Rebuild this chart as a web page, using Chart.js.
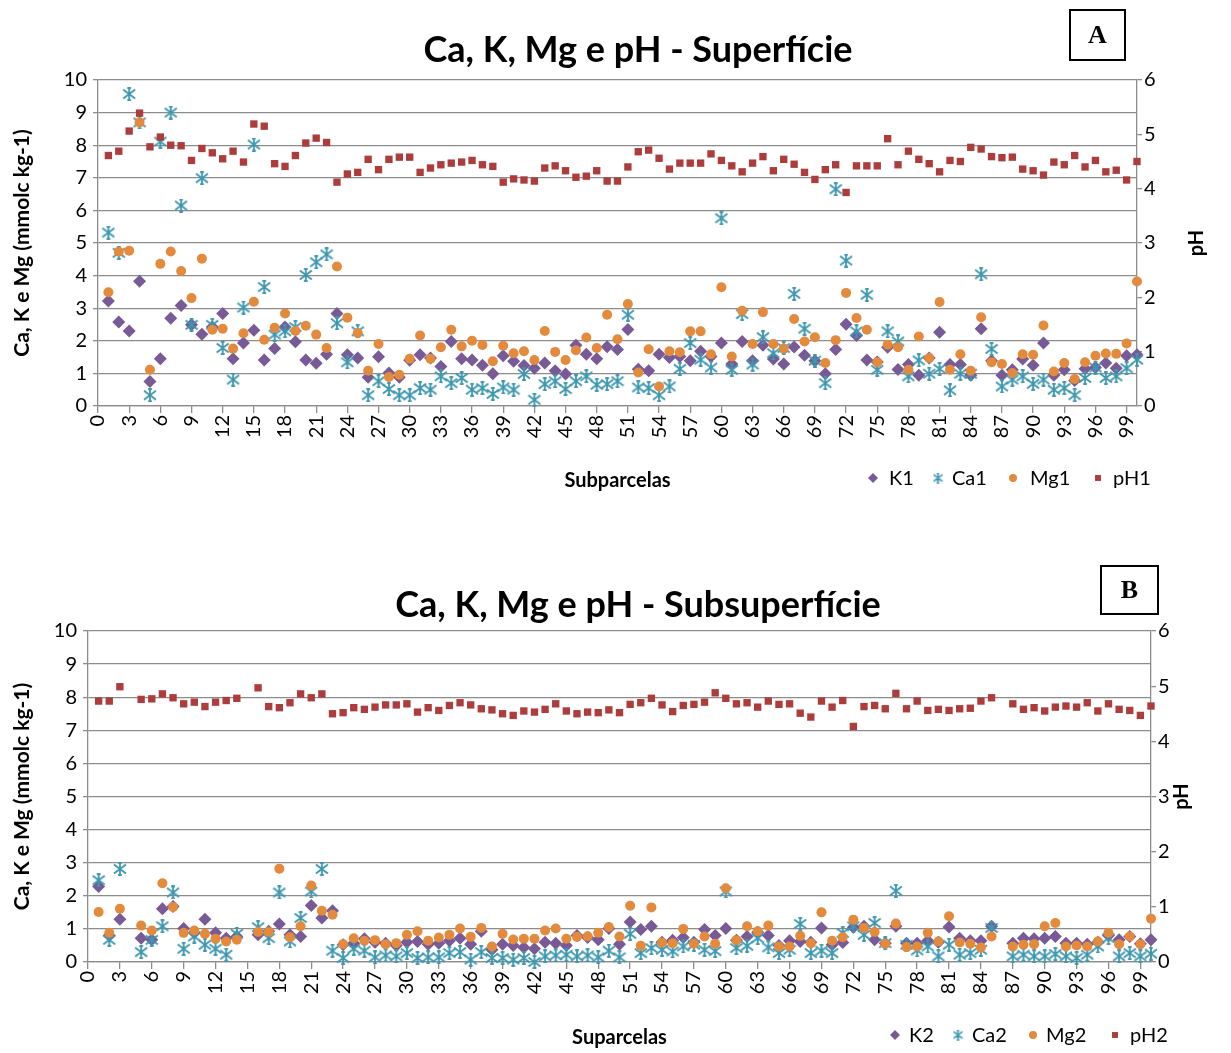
<!DOCTYPE html>
<html>
<head>
<meta charset="utf-8">
<script src="https://cdn.jsdelivr.net/npm/chart.js@4.4.1/dist/chart.umd.min.js"></script>
<style>
  body { margin: 0; background: #fff; }
  .wrap { position: absolute; left: 0; width: 1231px; height: 500px; }
</style>
</head>
<body>
<div class="wrap" style="top:0"><canvas id="sup"></canvas></div>
<div class="wrap" style="top:553px"><canvas id="sub"></canvas></div>
<script>
// subparcel numbers (x values)
const subparcelas = Array.from({length: 100}, (_, i) => i + 1);
const xTickLabels = [0,3,6,9,12,15,18,21,24,27,30,33,36,39,42,45,48,51,54,57,60,63,66,69,72,75,78,81,84,87,90,93,96,99];

// Superfície
const K1 = [3.22,2.58,2.30,3.83,0.75,1.45,2.69,3.08,2.49,2.20, 2.42,2.84,1.45,1.93,2.32,1.41,1.76,2.42,1.97,1.41,
  1.31,1.59,2.84,1.57,1.47,0.88,1.51,1.01,0.88,1.40, 1.57,1.47,1.21,1.98,1.45,1.41,1.25,0.99,1.54,1.37,
  1.24,1.16,1.32,1.08,0.98,1.86,1.59,1.45,1.82,1.73, 2.35,1.13,1.08,1.59,1.49,1.52,1.39,1.68,1.52,1.93,
  1.29,1.98,1.39,1.86,1.44,1.29,1.81,1.56,1.39,0.99, 1.73,2.51,2.16,1.41,1.35,1.80,1.12,1.27,0.94,1.47,
  2.26,1.27,1.27,0.94,2.37,1.39,0.94,1.11,1.44,1.25, 1.93,0.94,1.11,0.78,1.14,1.18,1.32,1.16,1.54,1.57];
const Ca1 = [5.32,4.70,9.57,8.70,0.33,8.11,9.00,6.15,2.49,6.99, 2.49,1.78,0.81,3.02,8.02,3.65,2.19,2.29,2.42,4.02,
  4.41,4.65,2.54,1.34,2.29,0.33,0.76,0.52,0.33,0.33, 0.55,0.50,0.91,0.70,0.86,0.50,0.55,0.37,0.57,0.50,
  0.98,0.19,0.67,0.76,0.52,0.76,0.91,0.65,0.67,0.76, 2.80,0.57,0.55,0.33,0.60,1.14,1.93,1.42,1.18,5.76,
  1.11,2.82,1.27,2.11,1.62,1.78,3.44,2.37,1.39,0.70, 6.65,4.46,2.29,3.41,1.11,2.29,1.98,0.91,1.40,0.99,
  1.14,0.48,0.99,0.99,4.04,1.75,0.60,0.81,0.91,0.68, 0.81,0.50,0.55,0.33,0.86,1.18,0.86,0.91,1.16,1.42];
const Mg1 = [3.49,4.73,4.76,8.70,1.11,4.36,4.74,4.14,3.31,4.52, 2.34,2.37,1.76,2.23,3.20,2.03,2.40,2.84,2.30,2.46,
  2.19,1.78,4.28,2.71,2.24,1.08,1.90,0.89,0.96,1.45, 2.16,1.45,1.80,2.34,1.83,2.00,1.87,1.37,1.85,1.62,
  1.68,1.41,2.30,1.66,1.41,1.71,2.10,1.78,2.80,2.05, 3.13,1.03,1.74,0.60,1.68,1.65,2.29,2.29,1.59,3.64,
  1.52,2.92,1.90,2.88,1.90,1.76,2.67,1.98,2.11,1.32, 2.02,3.47,2.70,2.34,1.34,1.88,1.80,1.11,2.13,1.47,
  3.19,1.11,1.59,1.08,2.72,1.34,1.29,1.01,1.59,1.57, 2.47,1.06,1.32,0.83,1.34,1.54,1.61,1.60,1.92,3.82];
const pH1 = [4.61,4.69,5.06,5.39,4.77,4.95,4.80,4.79,4.52,4.74, 4.66,4.55,4.69,4.49,5.19,5.15,4.46,4.41,4.61,4.84,
  4.93,4.85,4.12,4.27,4.30,4.54,4.35,4.54,4.58,4.58, 4.30,4.38,4.44,4.47,4.49,4.52,4.44,4.41,4.12,4.18,
  4.16,4.14,4.38,4.42,4.33,4.21,4.23,4.33,4.14,4.14, 4.40,4.68,4.71,4.56,4.36,4.47,4.47,4.47,4.64,4.52,
  4.42,4.31,4.47,4.59,4.33,4.54,4.45,4.30,4.17,4.35, 4.44,3.93,4.42,4.42,4.42,4.92,4.44,4.69,4.54,4.46,
  4.31,4.52,4.50,4.76,4.73,4.59,4.57,4.58,4.36,4.33, 4.25,4.49,4.44,4.61,4.40,4.52,4.31,4.34,4.16,4.50];

// Subsuperfície (null = no sample)
const K2 = [2.28,0.80,1.29,null,0.72,0.67,1.61,1.68,1.01,0.88, 1.29,0.88,0.72,0.77,null,0.82,0.93,1.15,0.82,0.77,
  1.71,1.33,1.55,0.52,0.57,0.70,0.60,0.57,0.50,0.60, 0.62,0.54,0.57,0.64,0.72,0.54,0.93,0.37,0.54,0.50,
  0.44,0.40,0.60,0.57,0.50,0.80,0.74,0.67,1.01,0.54, 1.21,0.98,1.08,0.60,0.66,0.74,0.60,0.98,0.80,1.01,
  0.66,0.77,0.90,0.80,0.50,0.64,0.62,0.60,1.03,0.52, 0.59,1.05,1.08,0.67,0.57,1.08,0.57,0.57,0.64,0.60,
  1.06,0.72,0.64,0.64,1.08,null,0.57,0.72,0.70,0.72, 0.77,0.57,0.57,0.54,0.60,0.80,0.67,0.77,0.55,0.67];
const Ca2 = [2.47,0.67,2.81,null,0.30,0.67,1.08,2.10,0.40,0.77, 0.52,0.40,0.22,0.85,null,1.05,0.72,2.10,0.62,1.33,
  2.13,2.81,0.34,0.12,0.40,0.34,0.14,0.20,0.17,0.27, 0.12,0.14,0.14,0.27,0.30,0.07,0.30,0.12,0.12,0.07,
  0.12,0.00,0.17,0.20,0.22,0.17,0.20,0.14,0.34,0.14, 0.85,0.27,0.42,0.37,0.32,0.47,0.52,0.37,0.33,2.13,
  0.42,0.49,0.72,0.44,0.27,0.37,1.15,0.27,0.34,0.27, 0.88,1.08,0.82,1.18,0.57,2.15,0.52,0.35,0.47,0.17,
  0.52,0.22,0.27,0.37,1.03,null,0.17,0.22,0.17,0.17, 0.24,0.17,0.12,0.22,0.47,0.72,0.17,0.27,0.17,0.25];
const Mg2 = [1.51,0.88,1.61,null,1.10,0.95,2.38,1.66,0.88,0.95, 0.85,0.70,0.62,0.67,null,0.91,0.91,2.82,0.75,1.08,
  2.31,1.55,1.43,0.54,0.72,0.64,0.66,0.54,0.57,0.82, 0.93,0.64,0.74,0.82,1.01,0.76,1.03,0.47,0.85,0.68,
  0.70,0.70,0.95,1.01,0.70,0.76,0.78,0.88,1.06,0.77, 1.70,0.49,1.65,0.59,0.57,1.00,0.55,0.77,0.55,2.23,
  0.66,1.08,0.93,1.10,0.47,0.47,0.79,0.57,1.50,0.64, 0.75,1.28,1.03,0.91,0.55,1.16,0.45,0.47,0.88,0.62,
  1.38,0.59,0.55,0.44,0.77,null,0.47,0.52,0.54,1.08, 1.18,0.47,0.50,0.47,0.62,0.88,0.54,0.77,0.54,1.31];
const pH2 = [4.73,4.73,4.99,null,4.76,4.77,4.86,4.79,4.68,4.71, 4.63,4.71,4.74,4.78,null,4.97,4.63,4.61,4.70,4.86,
  4.79,4.86,4.50,4.52,4.61,4.58,4.62,4.66,4.66,4.68, 4.53,4.61,4.56,4.65,4.70,4.66,4.59,4.57,4.50,4.47,
  4.55,4.53,4.58,4.68,4.55,4.50,4.53,4.52,4.57,4.52, 4.67,4.70,4.78,4.66,4.54,4.65,4.67,4.71,4.88,4.78,
  4.68,4.70,4.62,4.73,4.67,4.68,4.51,4.44,4.73,4.62, 4.74,4.27,4.63,4.65,4.59,4.87,4.59,4.73,4.56,4.58,
  4.56,4.59,4.60,4.73,4.79,null,4.68,4.58,4.61,4.55, 4.62,4.64,4.62,4.70,4.55,4.68,4.58,4.56,4.47,4.64];

const leftTicks = [0, 10, 1];   // min, max, step
const rightTicks = [0, 6, 1];

const FONT = 'Lato';
Chart.defaults.font.family = FONT;
Chart.defaults.color = '#000';

const colK = '#775a96', colCa = '#3c97af', colMg = '#e38a3d', colPH = '#ad3c3c';
const gridCol = '#8c8c8c';

// asterisk marker like the spreadsheet one
function makeStar(size, color, lw) {
  const c = document.createElement('canvas');
  c.width = c.height = size;
  const g = c.getContext('2d');
  const m = size / 2, r = size / 2 - 1;
  g.strokeStyle = color;
  g.lineWidth = lw;
  g.beginPath();
  g.moveTo(m, m - r); g.lineTo(m, m + r);
  g.moveTo(m - r, m - r * 0.75); g.lineTo(m + r, m + r * 0.75);
  g.moveTo(m + r, m - r * 0.75); g.lineTo(m - r, m + r * 0.75);
  g.moveTo(m - r * 0.3, m - r); g.lineTo(m + r * 0.3, m - r);
  g.moveTo(m - r * 0.3, m + r); g.lineTo(m + r * 0.3, m + r);
  g.stroke();
  return c;
}
const starBig = makeStar(14, colCa, 1.8);
const starSmall = makeStar(11, colCa, 1.5);

function pts(vals) {
  return vals.map((v, i) => v == null ? null : {x: subparcelas[i], y: v}).filter(Boolean);
}

function datasets(K, Ca, Mg, pH, n) {
  return [
    {label: 'K' + n, data: pts(K), yAxisID: 'y', order: 3, pointStyle: 'rectRot', pointRadius: 6.5,
     backgroundColor: colK, borderColor: colK, borderWidth: 0, clip: false, legendStyle: 'rectRot', legendR: 5},
    {label: 'Ca' + n, data: pts(Ca), yAxisID: 'y', order: 2, pointStyle: starBig, pointRadius: 6,
     backgroundColor: colCa, borderColor: colCa, borderWidth: 0, clip: false, legendStyle: starSmall, legendR: 5},
    {label: 'Mg' + n, data: pts(Mg), yAxisID: 'y', order: 1, pointStyle: 'circle', pointRadius: 5,
     backgroundColor: colMg, borderColor: colMg, borderWidth: 0, clip: false, legendStyle: 'circle', legendR: 4},
    {label: 'pH' + n, data: pts(pH), yAxisID: 'y1', order: 0, pointStyle: 'rect', pointRadius: 5.2,
     backgroundColor: colPH, borderColor: colPH, borderWidth: 0, clip: false, legendStyle: 'rect', legendR: 4.2}
  ];
}

const decor = {
  id: 'decor',
  afterDraw(chart, args, o) {
    const ctx = chart.ctx;
    const area = chart.chartArea;
    ctx.save();
    ctx.fillStyle = '#000';
    ctx.textAlign = 'center';
    ctx.textBaseline = 'middle';
    ctx.font = 'bold 36px ' + FONT;
    ctx.fillText(o.title, o.titleX, o.titleY);

    // right axis title, reading upwards like the left one
    ctx.save();
    ctx.font = 'bold 20px ' + FONT;
    ctx.translate(o.phX, (area.top + area.bottom) / 2);
    ctx.rotate(-Math.PI / 2);
    ctx.fillText('pH', 0, 0);
    ctx.restore();

    ctx.lineWidth = 2;
    ctx.strokeStyle = '#000';
    ctx.strokeRect(o.box[0], o.box[1], o.box[2], o.box[3]);
    ctx.font = 'bold 26px "Liberation Serif"';
    ctx.fillText(o.letter, o.box[0] + o.box[2] / 2, o.box[1] + o.box[3] / 2 + 1);

    ctx.font = '20px ' + FONT;
    ctx.textAlign = 'left';
    chart.data.datasets.forEach((ds, k) => {
      ctx.fillStyle = ds.backgroundColor;
      ctx.strokeStyle = ds.borderColor;
      Chart.helpers.drawPoint(ctx, {pointStyle: ds.legendStyle, radius: ds.legendR, borderWidth: 0, rotation: 0},
        o.legendMark[k], o.legendY);
      ctx.fillStyle = '#000';
      ctx.fillText(ds.label, o.legendText[k], o.legendY + 1);
    });
    ctx.restore();
  }
};

function makeChart(id, ds, o) {
  const tickFont = {size: 20, family: FONT};
  const titleFont = {size: 20, weight: 'bold', family: FONT};
  return new Chart(document.getElementById(id), {
    type: 'scatter',
    data: {datasets: ds},
    plugins: [decor],
    options: {
      responsive: true,
      maintainAspectRatio: false,
      animation: false,
      events: [],
      layout: {padding: {top: o.top, left: 0, right: 0, bottom: 0}},
      plugins: {legend: {display: false}, tooltip: {enabled: false}, title: {display: false}, decor: o},
      scales: {
        x: {
          type: 'linear', min: 0, max: 100,
          afterBuildTicks: s => { s.ticks = xTickLabels.map(v => ({value: v})); },
          afterFit: s => { s.height = o.xh; },
          ticks: {autoSkip: false, minRotation: 90, maxRotation: 90, font: tickFont, padding: 2},
          grid: {drawOnChartArea: false, tickLength: 7, color: gridCol, lineWidth: 1.3},
          border: {color: gridCol, width: 1.3},
          title: {display: true, text: o.xTitle, font: titleFont, padding: {top: 0, bottom: o.xtp}}
        },
        y: {
          position: 'left', min: leftTicks[0], max: leftTicks[1],
          afterFit: s => { s.width = o.left; },
          ticks: {stepSize: leftTicks[2], font: tickFont, padding: 6},
          grid: {color: gridCol, lineWidth: 1.3, tickLength: 5},
          border: {color: gridCol, width: 1.3},
          title: {display: true, text: 'Ca, K e Mg (mmolc kg-1)', font: {size: 21, weight: 'bold', family: FONT},
                  padding: {top: 10, bottom: 0}}
        },
        y1: {
          position: 'right', min: rightTicks[0], max: rightTicks[1],
          afterFit: s => { s.width = o.right; },
          ticks: {stepSize: rightTicks[2], font: tickFont, padding: 2},
          grid: {drawOnChartArea: false, color: gridCol, lineWidth: 1.3, tickLength: 5},
          border: {color: gridCol, width: 1.3},
          title: {display: false}
        }
      }
    }
  });
}

makeChart('sup', datasets(K1, Ca1, Mg1, pH1, 1), {
  top: 80, left: 98, right: 94, xh: 94, xtp: 7, phX: 1197,
  xTitle: 'Subparcelas',
  title: 'Ca, K, Mg e pH - Superfície', titleX: 638, titleY: 50,
  box: [1070, 10, 55, 50], letter: 'A',
  legendY: 478, legendMark: [873, 938, 1013, 1098], legendText: [889, 952, 1030, 1113]
});

makeChart('sub', datasets(K2, Ca2, Mg2, pH2, 2), {
  top: 78, left: 88, right: 80, xh: 91, xtp: 3, phX: 1182,
  xTitle: 'Suparcelas',
  title: 'Ca, K, Mg e pH - Subsuperfície', titleX: 638, titleY: 52,
  box: [1101, 13, 57, 48], letter: 'B',
  legendY: 482, legendMark: [895, 958, 1033, 1115], legendText: [909, 972, 1046, 1130]
});
</script>
</body>
</html>
